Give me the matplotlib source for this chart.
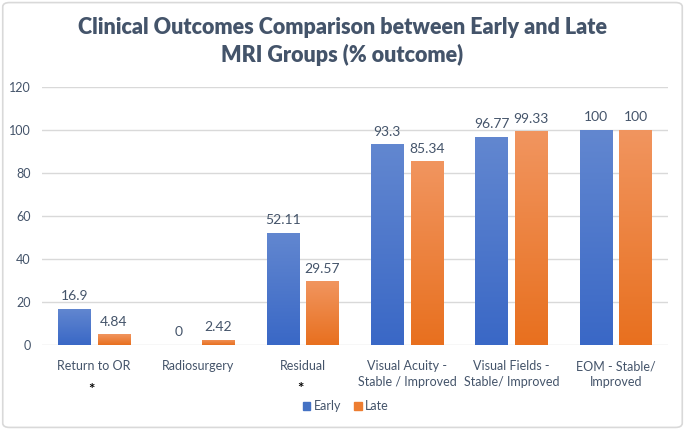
import matplotlib.pyplot as plt
import numpy as np
from matplotlib.colors import LinearSegmentedColormap
from matplotlib.patches import FancyBboxPatch, Patch

categories = ["Return to OR", "Radiosurgery", "Residual",
              "Visual Acuity -\nStable / Improved", "Visual Fields -\nStable/ Improved",
              "EOM - Stable/\nImproved"]
early = [16.9, 0, 52.11, 93.3, 96.77, 100]
late = [4.84, 2.42, 29.57, 85.34, 99.33, 100]
early_labels = ["16.9", "0", "52.11", "93.3", "96.77", "100"]
late_labels = ["4.84", "2.42", "29.57", "85.34", "99.33", "100"]
yticks = [0, 20, 40, 60, 80, 100, 120]

plt.rcParams['font.family'] = ['Lato', 'DejaVu Sans']

fig = plt.figure(figsize=(6.85, 4.3), dpi=100)
fig.patch.set_facecolor('white')
border = FancyBboxPatch((0.004, 0.006), 0.992, 0.988, boxstyle="round,pad=0,rounding_size=0.01",
                        transform=fig.transFigure, facecolor='none', edgecolor='#d9d9d9', lw=1.2,
                        zorder=-1)
fig.patches.append(border)

ax = fig.add_axes([0.061, 0.198, 0.914, 0.6])
ax.set_facecolor('none')
x = np.arange(len(categories))
w = 0.31
off = 0.19
b1 = ax.bar(x - off, early, w, color='#4472C4', zorder=2)
b2 = ax.bar(x + off, late, w, color='#ED7D31', zorder=2)

blue_cmap = LinearSegmentedColormap.from_list('b', ['#3a68c6', '#6287d0'])
orange_cmap = LinearSegmentedColormap.from_list('o', ['#e8701f', '#f1955f'])
grad = np.linspace(0, 1, 100).reshape(-1, 1)
for bars, cmap in ((b1, blue_cmap), (b2, orange_cmap)):
    for b in bars:
        h = b.get_height()
        if h <= 0:
            continue
        x0 = b.get_x()
        im = ax.imshow(grad, extent=[x0, x0 + b.get_width(), 0, h], origin='lower',
                       aspect='auto', cmap=cmap, zorder=3)
        im.set_clip_path(b)

for xi, v, lab in zip(x, early, early_labels):
    ax.text(xi - off, v + 3, lab, ha='center', va='bottom', fontsize=10, color='#44546A')
for xi, v, lab in zip(x, late, late_labels):
    ax.text(xi + off, v + 3, lab, ha='center', va='bottom', fontsize=10, color='#44546A')

ax.set_xlim(-0.5, len(categories) - 0.5)
ax.set_ylim(0, 120)
ax.set_yticks(yticks)
ax.set_xticks(x)
ax.set_xticklabels(categories, fontsize=9, color='#44546A', linespacing=1.35)
ax.tick_params(axis='both', length=0, labelsize=9, labelcolor='#44546A')
ax.tick_params(axis='x', pad=11)
ax.tick_params(axis='y', pad=8)
ax.grid(axis='y', color='#d9d9d9', lw=1, zorder=0)
for s in ax.spines.values():
    s.set_visible(False)
ax.set_axisbelow(True)

fig.text(0.5, 0.904, "Clinical Outcomes Comparison between Early and Late\nMRI Groups (% outcome)",
         ha='center', va='center', fontsize=15.5, fontweight='heavy', color='#44546A', linespacing=1.3)

fig.text(0.134, 0.092, "*", ha='center', va='center', fontsize=11, fontweight='bold', color='black')
fig.text(0.439, 0.095, "*", ha='center', va='center', fontsize=11, fontweight='bold', color='black')

leg = fig.legend(handles=[Patch(color='#4472C4', label='Early'), Patch(color='#ED7D31', label='Late')],
                 loc='center', bbox_to_anchor=(0.505, 0.055), ncol=2, frameon=False,
                 fontsize=9, handlelength=0.6, handleheight=0.6, handletextpad=0.3, columnspacing=1.0)
for t in leg.get_texts():
    t.set_color('#44546A')

fig.savefig('out.png', dpi=100)
